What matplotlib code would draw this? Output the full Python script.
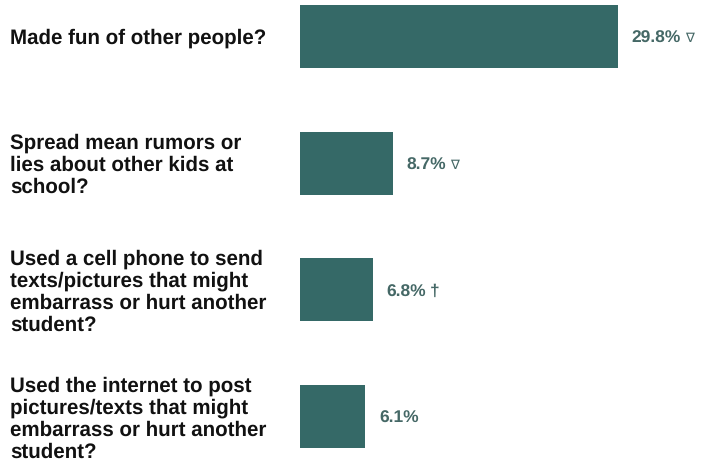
import matplotlib.pyplot as plt

plt.rcParams["text.hinting"] = "no_hinting"

# Survey items and percentages
questions = [
    "Made fun of other people?",
    "Spread mean rumors or\nlies about other kids at\nschool?",
    "Used a cell phone to send\ntexts/pictures that might\nembarrass or hurt another\nstudent?",
    "Used the internet to post\npictures/texts that might\nembarrass or hurt another\nstudent?",
]
values = [29.8, 8.7, 6.8, 6.1]
marks = ["\u2207", "\u2207", "\u2020", ""]

bar_color = "#356967"
label_color = "#456866"
fonts = ["Liberation Sans", "DejaVu Sans"]

fig = plt.figure(figsize=(7.01, 4.62), dpi=100)
ax = fig.add_axes([300 / 701, 0, 401 / 701, 1])

ypos = list(range(len(values)))
ax.barh(ypos, values, height=0.496, color=bar_color, left=0)
ax.set_xlim(0, 401 / 10.67)
ax.set_ylim(3 + 45.5 / 127, -36.5 / 127)
ax.axis("off")

for y, v, m in zip(ypos, values, marks):
    t = ax.annotate(f"{v:.1f}%", (v, y), xytext=(10, -1.5), textcoords="offset points",
                    va="center", ha="left", fontsize=12.5, fontweight="bold",
                    color=label_color, family=fonts)
    if m:
        w = "normal" if m == "\u2207" else "bold"
        s = 9.5 if m == "\u2207" else 12.5
        ax.annotate(m, xy=(1, 0.5), xycoords=t, xytext=(3, 0),
                    textcoords="offset points", va="center", ha="left",
                    fontsize=s, fontweight=w, color=label_color, family=fonts)

for y, q in zip(ypos, questions):
    yf = 1 - (38.5 + 127 * y) / 462
    fig.text(10 / 701, yf, q, ha="left", va="center", fontsize=14.8,
             fontweight="bold", color="#111111", family=fonts,
             linespacing=1.15)

fig.savefig("out.png", dpi=100, facecolor="white")
